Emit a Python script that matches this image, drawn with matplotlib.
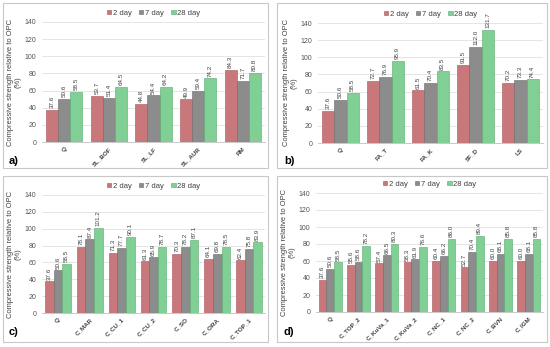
import numpy as np
import matplotlib
matplotlib.use("Agg")
import matplotlib.pyplot as plt
from matplotlib.patches import Rectangle

plt.rcParams['font.family'] = ['Liberation Sans', 'DejaVu Sans']

series = ["2 day", "7 day", "28 day"]
colors = ["#c8777a", "#8c8c8c", "#80cf94"]
edges = ["#a85558", "#6a6a6a", "#5aa86e"]

cats_a = ["Q", "SL_BOF", "SL_LF", "SL_AUR", "RM"]
d2_a = [37.6, 53.7, 44.8, 49.9, 84.3]
d7_a = [50.6, 51.4, 54.4, 59.4, 71.7]
d28_a = [58.5, 64.5, 64.2, 74.2, 80.8]

cats_b = ["Q", "FA_T", "FA_K", "SF_D", "LS"]
d2_b = [37.6, 72.7, 61.5, 91.5, 70.2]
d7_b = [50.6, 76.9, 70.4, 112.0, 73.3]
d28_b = [58.5, 95.9, 83.5, 131.7, 74.4]

cats_c = ["Q", "C_MAR", "C_CU_1", "C_CU_2", "C_SO", "C_ORA", "C_TOP_1"]
d2_c = [37.6, 78.1, 71.3, 61.3, 70.3, 64.1, 62.4]
d7_c = [50.6, 87.4, 77.7, 65.9, 78.2, 69.8, 75.8]
d28_c = [58.5, 101.2, 90.1, 78.7, 87.1, 78.5, 83.9]

cats_d = ["Q", "C_TOP_2", "C_KuVa_1", "C_KuVa_2", "C_NC_1", "C_NC_2", "C_BVN", "C_IGM"]
d2_d = [37.6, 55.6, 57.4, 58.3, 60.4, 52.7, 60.0, 60.0]
d7_d = [50.6, 58.6, 66.5, 61.9, 66.2, 70.4, 68.1, 68.1]
d28_d = [58.5, 78.2, 80.3, 76.6, 86.0, 89.4, 85.8, 85.8]

W, H = 550, 347
fig = plt.figure(figsize=(5.5, 3.47), dpi=100)


def px_axes(x0, y0, x1, y1):
    return fig.add_axes([x0 / W, 1 - y1 / H, (x1 - x0) / W, (y1 - y0) / H])


def panel(box, ax_px, cats, vals, letter, letter_pos):
    bx0, by0, bx1, by1 = box
    fig.patches.append(Rectangle((bx0 / W, 1 - by1 / H), (bx1 - bx0) / W, (by1 - by0) / H,
                                 transform=fig.transFigure, fill=False,
                                 edgecolor="#c8c8c8", linewidth=0.8))
    ax = px_axes(*ax_px)
    x = np.arange(len(cats))
    bw = 0.27
    for i, v in enumerate(vals):
        pos = x + (i - 1) * bw
        ax.bar(pos, v, bw, color=colors[i], edgecolor=edges[i], linewidth=0.4,
               label=series[i], zorder=3)
        for xx, vv in zip(pos, v):
            ax.text(xx, vv + 2, f"{vv:.1f}", rotation=90, ha="center", va="bottom",
                    fontsize=4.5, color="#404040")
    ax.set_ylim(0, 140)
    ax.set_xlim(-0.5, len(cats) - 0.5)
    ax.set_yticks(range(0, 141, 20))
    ax.yaxis.grid(True, color="#e0e0e0", linewidth=0.6, zorder=0)
    ax.set_xticks(x)
    ax.set_xticklabels(cats, rotation=45, ha="right", rotation_mode="anchor",
                       fontsize=4.5, fontweight="bold", color="#404040")
    ax.tick_params(axis="y", labelsize=5, colors="#555555", length=0, pad=4)
    ax.tick_params(axis="x", length=0, pad=3)
    for s in ["top", "right", "left"]:
        ax.spines[s].set_visible(False)
    ax.spines["bottom"].set_color("#bfbfbf")
    ax.spines["bottom"].set_linewidth(0.6)
    ax.set_ylabel("Compressive strength relative to OPC\n(%)", fontsize=5.4,
                  color="#404040", labelpad=2, linespacing=1.1)
    ax.legend(loc="lower center", bbox_to_anchor=(0.5, 1.0), ncol=3, frameon=False,
              fontsize=5.5, handlelength=0.55, handleheight=0.55, handletextpad=0.2,
              columnspacing=1.0, borderaxespad=0.3, labelcolor="#404040")
    fig.text(letter_pos[0] / W, 1 - letter_pos[1] / H, letter, fontsize=8,
             fontweight="bold", ha="left", va="center")
    return ax


panel((3, 3, 268, 168), (42, 22, 265, 142), cats_a, [d2_a, d7_a, d28_a], "a)", (9, 161))
panel((277, 3, 547, 168), (318, 23, 543, 143), cats_b, [d2_b, d7_b, d28_b], "b)", (284, 161))
panel((3, 176, 268, 342), (42, 195, 265, 313), cats_c, [d2_c, d7_c, d28_c], "c)", (9, 332))
panel((277, 176, 547, 342), (316, 193, 543, 312), cats_d, [d2_d, d7_d, d28_d], "d)", (284, 332))

fig.savefig("out.png", dpi=100)
